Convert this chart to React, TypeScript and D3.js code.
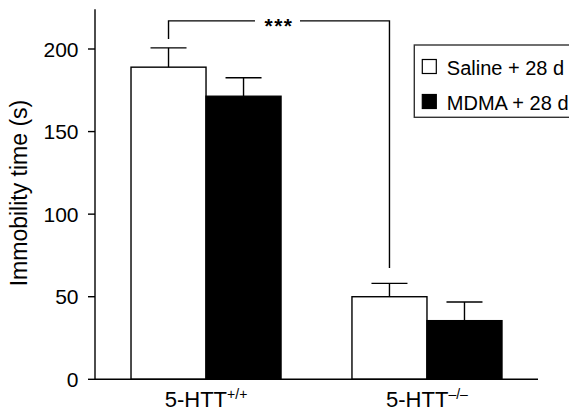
import React from 'react';
import * as d3 from 'd3';

// genotype groups (main label + superscript)
const groups = ['5-HTT', '5-HTT'];
const groupSup = ['+/+', '–/–'];
const seriesNames = ['Saline + 28 d', 'MDMA + 28 d'];
const seriesFill = ['#ffffff', '#000000'];

// mean immobility time (s) and SEM
const salineMeans = [189, 50];
const salineErr = [11.7, 8.1];
const mdmaMeans = [171.4, 35.5];
const mdmaErr = [11.2, 11.3];

const yTicks = [0, 50, 100, 150, 200];
const yMax = 224;

// significance bracket between the two saline bars
const bracketTop = 217;
const bracketLeftEnd = 206;
const bracketRightEnd = 67.4;
const bracketLabel = '***';

const W = 569;
const H = 414;
const FONT = '"Liberation Sans", Arial, Helvetica, sans-serif';

export default function App() {
  const x0 = d3.scaleBand<number>()
    .domain(d3.range(groups.length))
    .range([95, 538])
    .paddingInner(0.321)
    .paddingOuter(0.163);

  const x1 = d3.scaleBand<number>()
    .domain(d3.range(seriesNames.length))
    .range([0, x0.bandwidth()])
    .padding(0);

  const y = d3.scaleLinear().domain([0, 200]).range([379.3, 49]);

  const means = [salineMeans, mdmaMeans];
  const errs = [salineErr, mdmaErr];
  const capHalf = x1.bandwidth() * 0.24;

  const cx = (g: number, s: number) => (x0(g) || 0) + (x1(s) || 0) + x1.bandwidth() / 2;

  const bx1 = cx(0, 0);
  const bx2 = cx(1, 0);
  const midX = (bx1 + bx2) / 2;
  const by = y(bracketTop);

  return (
    <div style={{ position: 'fixed', left: 0, top: 0 }}>
      <svg width={W} height={H} style={{ display: 'block', background: '#fff' }} fontFamily={FONT}>
        {/* bars */}
        {groups.map((_, g) => (
          <g key={g}>
            {seriesNames.map((_, s) => {
              const v = means[s][g];
              const e = errs[s][g];
              const x = (x0(g) || 0) + (x1(s) || 0);
              const c = cx(g, s);
              return (
                <g key={s}>
                  <line x1={c} x2={c} y1={y(v)} y2={y(v + e)} stroke="#000" strokeWidth={1.4} />
                  <line x1={c - capHalf} x2={c + capHalf} y1={y(v + e)} y2={y(v + e)} stroke="#000" strokeWidth={1.4} />
                  <rect x={x} y={y(v)} width={x1.bandwidth()} height={y(0) - y(v)}
                    fill={seriesFill[s]} stroke="#000" strokeWidth={1.4} />
                </g>
              );
            })}
          </g>
        ))}

        {/* y axis */}
        <line x1={95} x2={95} y1={y(0)} y2={y(yMax)} stroke="#000" strokeWidth={1.4} />
        {yTicks.map(t => (
          <g key={t}>
            <line x1={88} x2={95} y1={y(t)} y2={y(t)} stroke="#000" strokeWidth={1.4} />
            <text x={78.5} y={y(t) + 7.5} textAnchor="end" fontSize={21} fill="#000">{t}</text>
          </g>
        ))}
        <text transform={`translate(27,193) rotate(-90)`} textAnchor="middle" fontSize={23} fill="#000">
          Immobility time (s)
        </text>

        {/* x axis */}
        <line x1={95} x2={538} y1={y(0)} y2={y(0)} stroke="#000" strokeWidth={1.4} />
        {groups.map((name, g) => (
          <text key={g} x={(x0(g) || 0) + x0.bandwidth() / 2} y={407.3} textAnchor="middle" fontSize={22} fill="#000">
            {name}
            <tspan fontSize={14} dy={-8.5}>{groupSup[g]}</tspan>
          </text>
        ))}

        {/* significance bracket */}
        <path
          d={`M${bx1},${y(bracketLeftEnd)} V${by} H${midX - 24} M${midX + 21},${by} H${bx2} V${y(bracketRightEnd)}`}
          fill="none" stroke="#000" strokeWidth={1.4}
        />
        <text x={midX} y={by + 12} textAnchor="middle" fontSize={21} fontWeight="bold" letterSpacing={1.5} fill="#000">{bracketLabel}</text>

        {/* legend */}
        <rect x={414.3} y={45} width={170} height={72.3} fill="#fff" stroke="#333" strokeWidth={1.4} />
        {seriesNames.map((name, s) => (
          <g key={s} transform={`translate(422.3,${59.5 + s * 35})`}>
            <rect x={0} y={0} width={14} height={14} fill={seriesFill[s]} stroke="#000" strokeWidth={1.2} />
            <text x={24.5} y={15} fontSize={20} fill="#000">{name}</text>
          </g>
        ))}
      </svg>
    </div>
  );
}
